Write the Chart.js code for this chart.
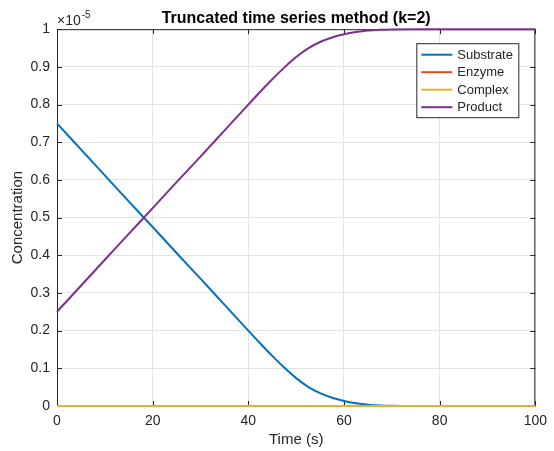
<!DOCTYPE html>
<html lang="en">
<head>
<meta charset="UTF-8">
<title>Truncated time series method (k=2)</title>
<script src="https://cdn.jsdelivr.net/npm/chart.js"></script>
<style>
  * { margin: 0; padding: 0; }
  body { background: #fff; width: 554px; height: 451px; overflow: hidden; }
  #chart { display: block; }
</style>
</head>
<body>
<canvas id="chart" width="554" height="451"></canvas>
<script>
// values in units of 1e-5
const timePoints = [0, 5, 10, 15, 20, 25, 30, 35, 40, 42.5, 45, 47.5, 50, 52.5, 55, 57.5, 60, 62.5, 65, 67.5, 70, 75, 80, 85, 90, 95, 100];
const substrate  = [0.75, 0.681, 0.612, 0.543, 0.475, 0.406, 0.338, 0.269, 0.200, 0.166, 0.133, 0.102, 0.074, 0.051, 0.034, 0.022, 0.0135, 0.0075, 0.0035, 0.0015, 0.0005, 0, 0, 0, 0, 0, 0];
const enzyme     = [0, 0, 0, 0, 0, 0, 0, 0, 0, 0, 0, 0, 0, 0, 0, 0, 0, 0, 0, 0, 0, 0, 0, 0, 0, 0, 0];
const complex    = [0, 0, 0, 0, 0, 0, 0, 0, 0, 0, 0, 0, 0, 0, 0, 0, 0, 0, 0, 0, 0, 0, 0, 0, 0, 0, 0];
const product    = [0.25, 0.319, 0.388, 0.457, 0.525, 0.594, 0.662, 0.731, 0.800, 0.834, 0.867, 0.898, 0.926, 0.949, 0.966, 0.978, 0.9865, 0.9925, 0.9965, 0.9985, 0.9995, 1, 1, 1, 1, 1, 1];

const xTicks = [0, 20, 40, 60, 80, 100];
const yTicks = [0, 0.1, 0.2, 0.3, 0.4, 0.5, 0.6, 0.7, 0.8, 0.9, 1];

const seriesNames  = ['Substrate', 'Enzyme', 'Complex', 'Product'];
const seriesColors = ['#0072BD', '#D95319', '#EDB120', '#7E2F8E'];
const seriesData   = [substrate, enzyme, complex, product];

const FONT = "'Liberation Sans', Arial, Helvetica, sans-serif";
const INK = '#262626';

function toPoints(values) {
  return timePoints.map((t, i) => ({ x: t, y: values[i] }));
}

// box around the axes with inward tick marks, like matlab
const framePlugin = {
  id: 'frame',
  beforeDatasetsDraw(chart) {
    const { ctx, chartArea: a, scales: { x, y } } = chart;
    const len = 5;
    ctx.save();
    ctx.strokeStyle = INK;
    ctx.lineWidth = 1;
    ctx.beginPath();
    ctx.rect(a.left + 0.5, a.top + 0.5, a.right - a.left - 1, a.bottom - a.top - 1);
    ctx.stroke();
    ctx.beginPath();
    xTicks.forEach(v => {
      const px = Math.round(x.getPixelForValue(v)) + 0.5;
      ctx.moveTo(px, a.bottom); ctx.lineTo(px, a.bottom - len);
      ctx.moveTo(px, a.top); ctx.lineTo(px, a.top + len);
    });
    yTicks.forEach(v => {
      const py = Math.round(y.getPixelForValue(v)) + 0.5;
      ctx.moveTo(a.left, py); ctx.lineTo(a.left + len, py);
      ctx.moveTo(a.right, py); ctx.lineTo(a.right - len, py);
    });
    ctx.stroke();
    ctx.restore();
  },
  afterDraw(chart) {
    const { ctx, chartArea: a } = chart;
    ctx.save();
    ctx.fillStyle = INK;
    ctx.textBaseline = 'alphabetic';
    ctx.textAlign = 'left';
    ctx.font = '14px ' + FONT;
    ctx.fillText('\u00d710', a.left, 25);
    const w = ctx.measureText('\u00d710').width;
    ctx.font = '10px ' + FONT;
    ctx.fillText('-5', a.left + w + 1, 18);

    // legend
    const bx = a.right - 119, by = a.top + 14, bw = 102, bh = 74;
    ctx.fillStyle = '#fff';
    ctx.fillRect(bx, by, bw, bh);
    ctx.strokeStyle = INK;
    ctx.lineWidth = 1;
    ctx.strokeRect(bx + 0.5, by + 0.5, bw, bh);
    ctx.font = '13px ' + FONT;
    ctx.textBaseline = 'middle';
    seriesNames.forEach((name, i) => {
      const ry = by + 11.5 + i * 17.5;
      ctx.strokeStyle = seriesColors[i];
      ctx.lineWidth = 2;
      ctx.beginPath();
      ctx.moveTo(bx + 5, ry); ctx.lineTo(bx + 36, ry);
      ctx.stroke();
      ctx.fillStyle = INK;
      ctx.fillText(name, bx + 41, ry + 0.5);
    });
    ctx.restore();
  }
};

new Chart(document.getElementById('chart'), {
  type: 'line',
  data: {
    datasets: seriesNames.map((name, i) => ({
      label: name,
      data: toPoints(seriesData[i]),
      borderColor: seriesColors[i],
      backgroundColor: seriesColors[i],
      borderWidth: 2,
      pointRadius: 0,
      cubicInterpolationMode: 'monotone',
      clip: 4,
      order: seriesNames.length - i
    }))
  },
  options: {
    responsive: false,
    animation: false,
    layout: { padding: { left: 0, right: 17, top: 0, bottom: 0 } },
    plugins: {
      legend: { display: false },
      tooltip: { enabled: false },
      title: {
        display: true,
        text: 'Truncated time series method (k=2)',
        fullSize: false,
        color: '#000',
        font: { family: FONT, size: 16, weight: 'bold' },
        padding: { top: 9, bottom: 1 }
      }
    },
    scales: {
      x: {
        type: 'linear',
        min: 0, max: 100,
        afterFit: s => { s.height = 45; },
        afterBuildTicks: s => { s.ticks = xTicks.map(v => ({ value: v })); },
        grid: { color: '#e3e3e3', drawTicks: false },
        border: { display: false },
        ticks: { color: INK, padding: 7, font: { family: FONT, size: 14 }, callback: v => String(v) },
        title: {
          display: true, text: 'Time (s)', color: INK,
          font: { family: FONT, size: 15 }, padding: { top: 0, bottom: 2 }
        }
      },
      y: {
        type: 'linear',
        min: 0, max: 1,
        afterFit: s => { s.width = 57; },
        afterBuildTicks: s => { s.ticks = yTicks.map(v => ({ value: v })); },
        grid: { color: '#e3e3e3', drawTicks: false },
        border: { display: false },
        ticks: { color: INK, padding: 7, font: { family: FONT, size: 14 }, callback: v => String(v) },
        title: {
          display: true, text: 'Concentration', color: INK,
          font: { family: FONT, size: 15 }, padding: { top: 9, bottom: 0 }
        }
      }
    }
  },
  plugins: [framePlugin]
});
</script>
</body>
</html>
